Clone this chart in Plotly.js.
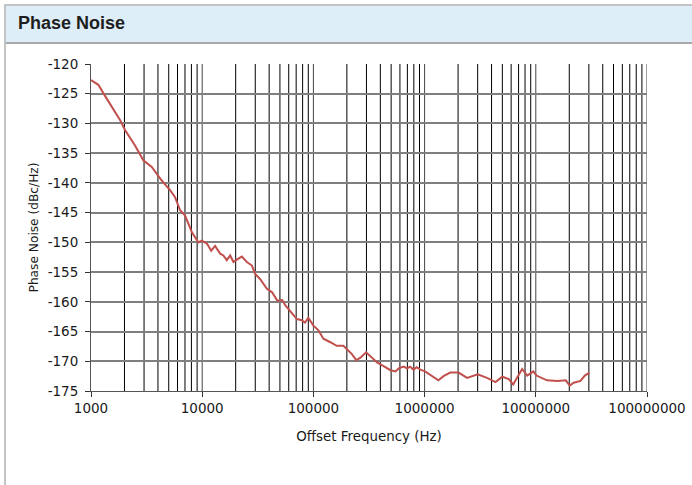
<!DOCTYPE html>
<html>
<head>
<meta charset="utf-8">
<script src="https://cdn.plot.ly/plotly-3.0.1.min.js"></script>
<style>
  html, body { margin: 0; padding: 0; background: #ffffff; width: 692px; height: 485px; overflow: hidden; }
  #panel { position: absolute; left: 4px; top: 4px; width: 720px; height: 520px;
           border-left: 2px solid #c4c4c4; border-top: 2px solid #c4c4c4; background: #ffffff; }
  #bar { position: absolute; left: 0; top: 0; width: 100%; height: 36px;
         background: #deeef8; border-bottom: 2px solid #a9a9a9; }
  #chart { position: absolute; left: 0; top: 0; width: 692px; height: 485px; }
</style>
</head>
<body>
<div id="panel"><div id="bar"></div></div>
<div id="chart"></div>
<script>
// Offset frequency (Hz) and phase noise (dBc/Hz)
const freqHz = [
  1000, 1164, 1291, 1536, 1823, 2022, 2488, 2955, 3516, 4328, 5137, 5698, 6327, 7020, 8078,
  9244, 9920, 11030, 12040, 13060, 14500, 15500, 16640, 17840, 19100, 20480, 22720, 25200,
  28000, 29960, 33240, 38200, 42500, 47300, 52400, 56000, 64000, 71000, 78700, 84000, 90000,
  100100, 111000, 123000, 142000, 162000, 186000, 208000, 222000, 243000, 265000, 298000,
  336000, 374000, 428000, 493000, 547000, 585000, 646000, 696000, 740000, 795000, 850000,
  915000, 1010000, 1160000, 1330000, 1480000, 1700000, 2020000, 2410000, 3000000, 3640000,
  4340000, 5000000, 5710000, 6260000, 6820000, 7540000, 8370000, 9500000, 10150000, 12600000,
  15600000, 18600000, 20200000, 21900000, 25200000, 27600000, 30400000
];
const phaseNoise = [
  -122.7, -123.5, -124.9, -127.2, -129.4, -131.1, -133.7, -136.2, -137.3, -139.6, -141.2, -142.4, -144.6, -145.5, -148.3,
  -150.0, -149.7, -150.2, -151.4, -150.6, -151.9, -152.2, -153.0, -152.2, -153.3, -152.9, -152.4, -153.3,
  -153.9, -155.3, -156.2, -157.8, -158.4, -159.8, -159.7, -160.6, -161.8, -162.9, -163.1, -163.5, -162.7,
  -164.0, -164.8, -166.2, -166.8, -167.4, -167.4, -168.2, -168.8, -169.8, -169.4, -168.5,
  -169.4, -170.2, -170.8, -171.5, -171.7, -171.2, -170.9, -171.2, -170.9, -171.4, -171.0,
  -171.4, -171.7, -172.4, -173.2, -172.5, -171.9, -171.9, -172.8, -172.2, -172.8,
  -173.5, -172.6, -173.0, -173.9, -172.7, -171.3, -172.4, -171.7, -172.4, -173.2,
  -173.3, -173.2, -174.1, -173.6, -173.3, -172.4, -171.9
];

const xTickVals = [1000, 10000, 100000, 1000000, 10000000, 100000000];
const xTickText = ["1000", "10000", "100000", "1000000", "10000000", "100000000"];
const yTickVals = [-120, -125, -130, -135, -140, -145, -150, -155, -160, -165, -170, -175];
const yTickText = ["-120", "-125", "-130", "-135", "-140", "-145", "-150", "-155", "-160", "-165", "-170", "-175"];

const tickFont = { family: "DejaVu Sans, Verdana, sans-serif", size: 13.5, color: "#1a1a1a" };

// Vertical log gridlines at 1..9 x each decade (axis furniture, built from the decade tick values)
const gridShapes = [];
xTickVals.forEach(function (dec, i) {
  const digits = (i === xTickVals.length - 1) ? [1] : [1, 2, 3, 4, 5, 6, 7, 8, 9];
  digits.forEach(function (d) {
    if (i === 0 && d === 1) return; // coincides with the y axis line
    gridShapes.push({
      type: "line", xref: "x", yref: "paper",
      x0: dec * d, x1: dec * d, y0: 0, y1: 1,
      layer: "below",
      line: { color: d === 1 ? "#444444" : "#000000", width: 1 }
    });
  });
});

const trace = {
  x: freqHz, y: phaseNoise, type: "scatter", mode: "lines",
  line: { color: "#c0504d", width: 2 },
  hoverinfo: "skip", showlegend: false
};

const layout = {
  width: 692, height: 485,
  margin: { l: 91, r: 45, t: 64, b: 94, pad: 0 },
  paper_bgcolor: "rgba(0,0,0,0)",
  plot_bgcolor: "#ffffff",
  title: {
    text: "<b>Phase Noise</b>",
    x: 18 / 692, xanchor: "left", xref: "container",
    y: 1 - 23 / 485, yanchor: "middle", yref: "container",
    font: { family: "Liberation Sans, Arial, sans-serif", size: 18, color: "#1e1e1e" }
  },
  shapes: gridShapes,
  xaxis: {
    type: "log",
    range: [3, 8],
    tickmode: "array", tickvals: xTickVals, ticktext: xTickText,
    ticks: "outside", ticklen: 5, tickcolor: "#333333", tickwidth: 1,
    showgrid: false,
    showline: true, linecolor: "#555555", linewidth: 1,
    zeroline: false,
    tickfont: tickFont,
    title: { text: "Offset Frequency (Hz)", font: { family: "DejaVu Sans, Verdana, sans-serif", size: 13.4, color: "#1a1a1a" }, standoff: 16 }
  },
  yaxis: {
    range: [-175, -120],
    tickmode: "array", tickvals: yTickVals, ticktext: yTickText,
    ticks: "outside", ticklen: 5, tickcolor: "#333333", tickwidth: 1,
    ticklabelstandoff: 4,
    showgrid: true, gridcolor: "#7f7f7f", gridwidth: 2,
    showline: true, linecolor: "#555555", linewidth: 1,
    zeroline: false,
    tickfont: tickFont,
    title: { text: "Phase Noise (dBc/Hz)", font: { family: "DejaVu Sans, Verdana, sans-serif", size: 12.2, color: "#1a1a1a" }, standoff: 6 }
  }
};

Plotly.newPlot("chart", [trace], layout, { staticPlot: true, displayModeBar: false });
</script>
</body>
</html>
